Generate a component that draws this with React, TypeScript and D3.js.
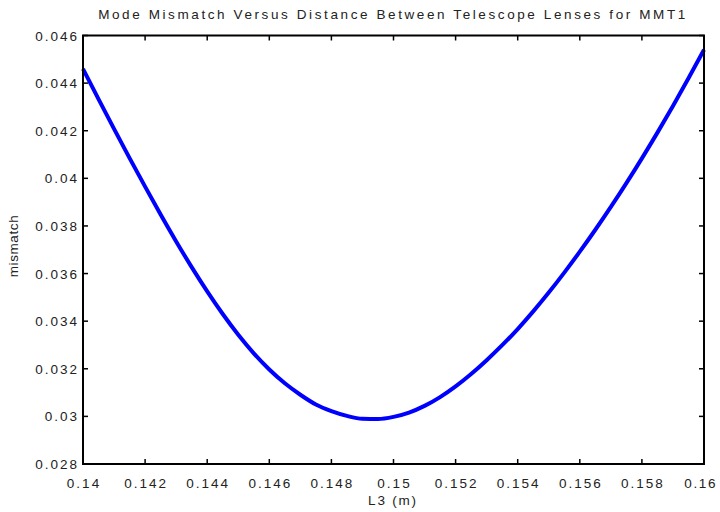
import React from "react";
import * as d3 from "d3";

// L3 values (m) and the mode mismatch
const l3 = [
  0.14, 0.1405, 0.141, 0.1415, 0.142, 0.1425, 0.143, 0.1435, 0.144, 0.1445,
  0.145, 0.1455, 0.146, 0.1465, 0.147, 0.1475, 0.148, 0.1485, 0.149, 0.1495,
  0.15, 0.1505, 0.151, 0.1515, 0.152, 0.1525, 0.153, 0.1535, 0.154, 0.1545,
  0.155, 0.1555, 0.156, 0.1565, 0.157, 0.1575, 0.158, 0.1585, 0.159, 0.1595,
  0.16,
];
const mismatch = [
  0.0446, 0.04333, 0.04208, 0.04085, 0.03965, 0.03848, 0.03735, 0.03627,
  0.03525, 0.0343, 0.03343, 0.03265, 0.03197, 0.03139, 0.03091, 0.0305,
  0.03022, 0.03002, 0.0299, 0.02989, 0.02998, 0.03016, 0.03044, 0.03081,
  0.03126, 0.03178, 0.03236, 0.03299, 0.03367, 0.03441, 0.0352, 0.03604,
  0.03692, 0.03784, 0.0388, 0.0398, 0.04084, 0.04192, 0.04304, 0.0442, 0.0454,
];
const xTicks = [0.14, 0.142, 0.144, 0.146, 0.148, 0.15, 0.152, 0.154, 0.156, 0.158, 0.16];
const yTicks = [0.028, 0.03, 0.032, 0.034, 0.036, 0.038, 0.04, 0.042, 0.044, 0.046];

const title = "Mode Mismatch Versus Distance Between Telescope Lenses for MMT1";
const xlabel = "L3 (m)";
const ylabel = "mismatch";

export default function App() {
  const width = 720;
  const height = 512;
  const m = { left: 83, right: 704, top: 35.5, bottom: 464 };

  const x = d3.scaleLinear().domain([0.14, 0.16]).range([m.left, m.right]);
  const y = d3.scaleLinear().domain([0.028, 0.046]).range([m.bottom, m.top]);

  const path = d3
    .line<number>()
    .x((_, i) => x(l3[i]))
    .y((d) => y(d))
    .curve(d3.curveMonotoneX)(mismatch);

  const fmt = (v: number) => String(+v.toFixed(3));
  const font = "'Liberation Sans', Arial, Helvetica, sans-serif";
  const tick = 5;

  return (
    <svg
      width={width}
      height={height}
      style={{ position: "absolute", left: 0, top: 0, background: "#fff" }}
      fontFamily={font}
    >
      <rect x={0} y={0} width={width} height={height} fill="#fff" />
      {/* curve */}
      <path d={path ?? ""} fill="none" stroke="#0000ff" strokeWidth={4} strokeLinejoin="round" />
      {/* box */}
      <rect
        x={m.left}
        y={m.top}
        width={m.right - m.left}
        height={m.bottom - m.top}
        fill="none"
        stroke="#000"
        strokeWidth={2}
      />
      {/* x ticks */}
      {xTicks.map((t, i) => (
        <g key={"x" + t}>
          <line x1={x(t)} x2={x(t)} y1={m.bottom} y2={m.bottom - tick} stroke="#000" strokeWidth={1.5} />
          <line x1={x(t)} x2={x(t)} y1={m.top} y2={m.top + tick} stroke="#000" strokeWidth={1.5} />
          <text
            x={i === xTicks.length - 1 ? 717 : x(t) + 1}
            y={488}
            textAnchor={i === xTicks.length - 1 ? "end" : "middle"}
            fontSize={13.5}
            letterSpacing={i === xTicks.length - 1 ? 1.6 : 2}
            fill="#222"
          >
            {fmt(t)}
          </text>
        </g>
      ))}
      {/* y ticks */}
      {yTicks.map((t) => (
        <g key={"y" + t}>
          <line x1={m.left} x2={m.left + tick} y1={y(t)} y2={y(t)} stroke="#000" strokeWidth={1.5} />
          <line x1={m.right} x2={m.right - tick} y1={y(t)} y2={y(t)} stroke="#000" strokeWidth={1.5} />
          <text
            x={79}
            y={y(t) + 5}
            textAnchor="end"
            fontSize={13.5}
            letterSpacing={2}
            fill="#222"
          >
            {fmt(t)}
          </text>
        </g>
      ))}
      <text x={393} y={19} textAnchor="middle" fontSize={13.5} letterSpacing={2.6} fill="#222">
        {title}
      </text>
      <text x={393} y={505} textAnchor="middle" fontSize={13.5} letterSpacing={1.8} fill="#222">
        {xlabel}
      </text>
      <text
        transform={`translate(18,246) rotate(-90)`}
        textAnchor="middle"
        fontSize={13.5}
        letterSpacing={0.6}
        fill="#222"
      >
        {ylabel}
      </text>
    </svg>
  );
}
